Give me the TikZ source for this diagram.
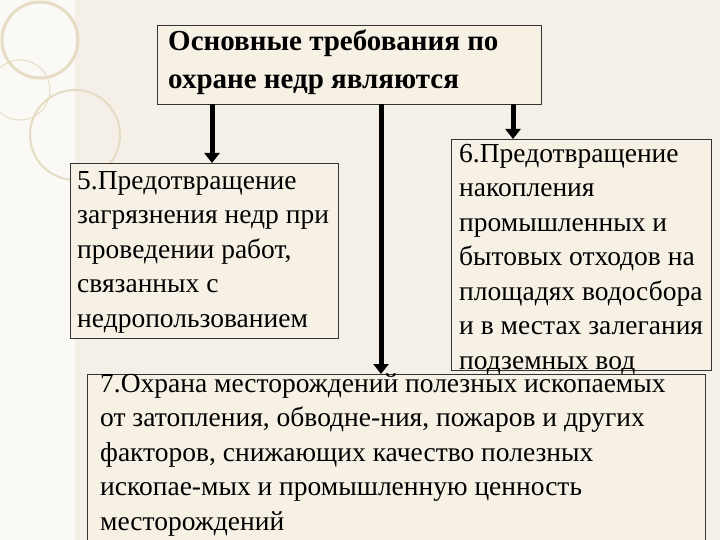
\documentclass[tikz,border=0pt]{standalone}
\usepackage{fontspec}
\setmainfont{Liberation Serif}
\usetikzlibrary{arrows.meta}
\definecolor{bgcol}{HTML}{F4F0E8}
\definecolor{boxcol}{HTML}{F6F1E4}
\definecolor{ringcol}{HTML}{E6DCC4}
\tikzstyle{box} = [draw=black!80, fill=boxcol, line width=0.8pt]
\tikzstyle{txt} = [anchor=north west, align=left, font=\fontsize{27.5}{34.5}\selectfont, inner sep=0pt]
\tikzstyle{line} = [draw, line width=5pt, -{Triangle[length=10pt,width=15pt]}]

\begin{document}
\begin{tikzpicture}[x=1pt,y=-1pt]
	\useasboundingbox (0,0) rectangle (720,540);
	\clip (0,0) rectangle (720,540);

	\fill[bgcol] (0,0) rectangle (720,540); % background
	\fill[white!60!bgcol] (0,0) rectangle (75,540);
	\draw[ringcol, line width=3pt] (40,40) circle (38); \draw[ringcol, line width=2pt] (75,135) circle (45); % rings
	\draw[ringcol, line width=1pt] (20,90) circle (30);

	\draw[box] (157,25) rectangle (541,104); % top
	\node[txt, font=\fontsize{29}{38}\selectfont\bfseries] (top) at (168,30) {Основные требования по\\охране недр являются};
	\coordinate (a1) at (212,104); \coordinate (a2) at (381,104); \coordinate (a3) at (513,104);

	\draw[box] (70,163) rectangle (338,338); % box 5
	\node[txt] (p5) at (77,171) {5.Предотвращение\\загрязнения недр при\\проведении работ,\\связанных с\\недропользованием};

	\draw[box] (451,139) rectangle (711,370); % box 6
	\node[txt] (p6) at (459,144) {6.Предотвращение\\накопления\\промышленных и\\бытовых отходов на\\площадях водосбора\\и в местах залегания\\подземных вод};

	\draw[box] (87,374) rectangle (705,545); % box 7
	\node[txt] (p7) at (100,373) {7.Охрана месторождений полезных ископаемых\\от затопления, обводне-ния, пожаров и других\\факторов, снижающих качество полезных\\ископае-мых и промышленную ценность\\месторождений};

	\coordinate (b1) at (212,163); \coordinate (b2) at (381,374); \coordinate (b3) at (513,139);
	\draw[line] (a1) -- (b1);
	\draw[line] (a2) -- (b2);
	\draw[line] (a3) -- (b3);

\end{tikzpicture}
\end{document}
